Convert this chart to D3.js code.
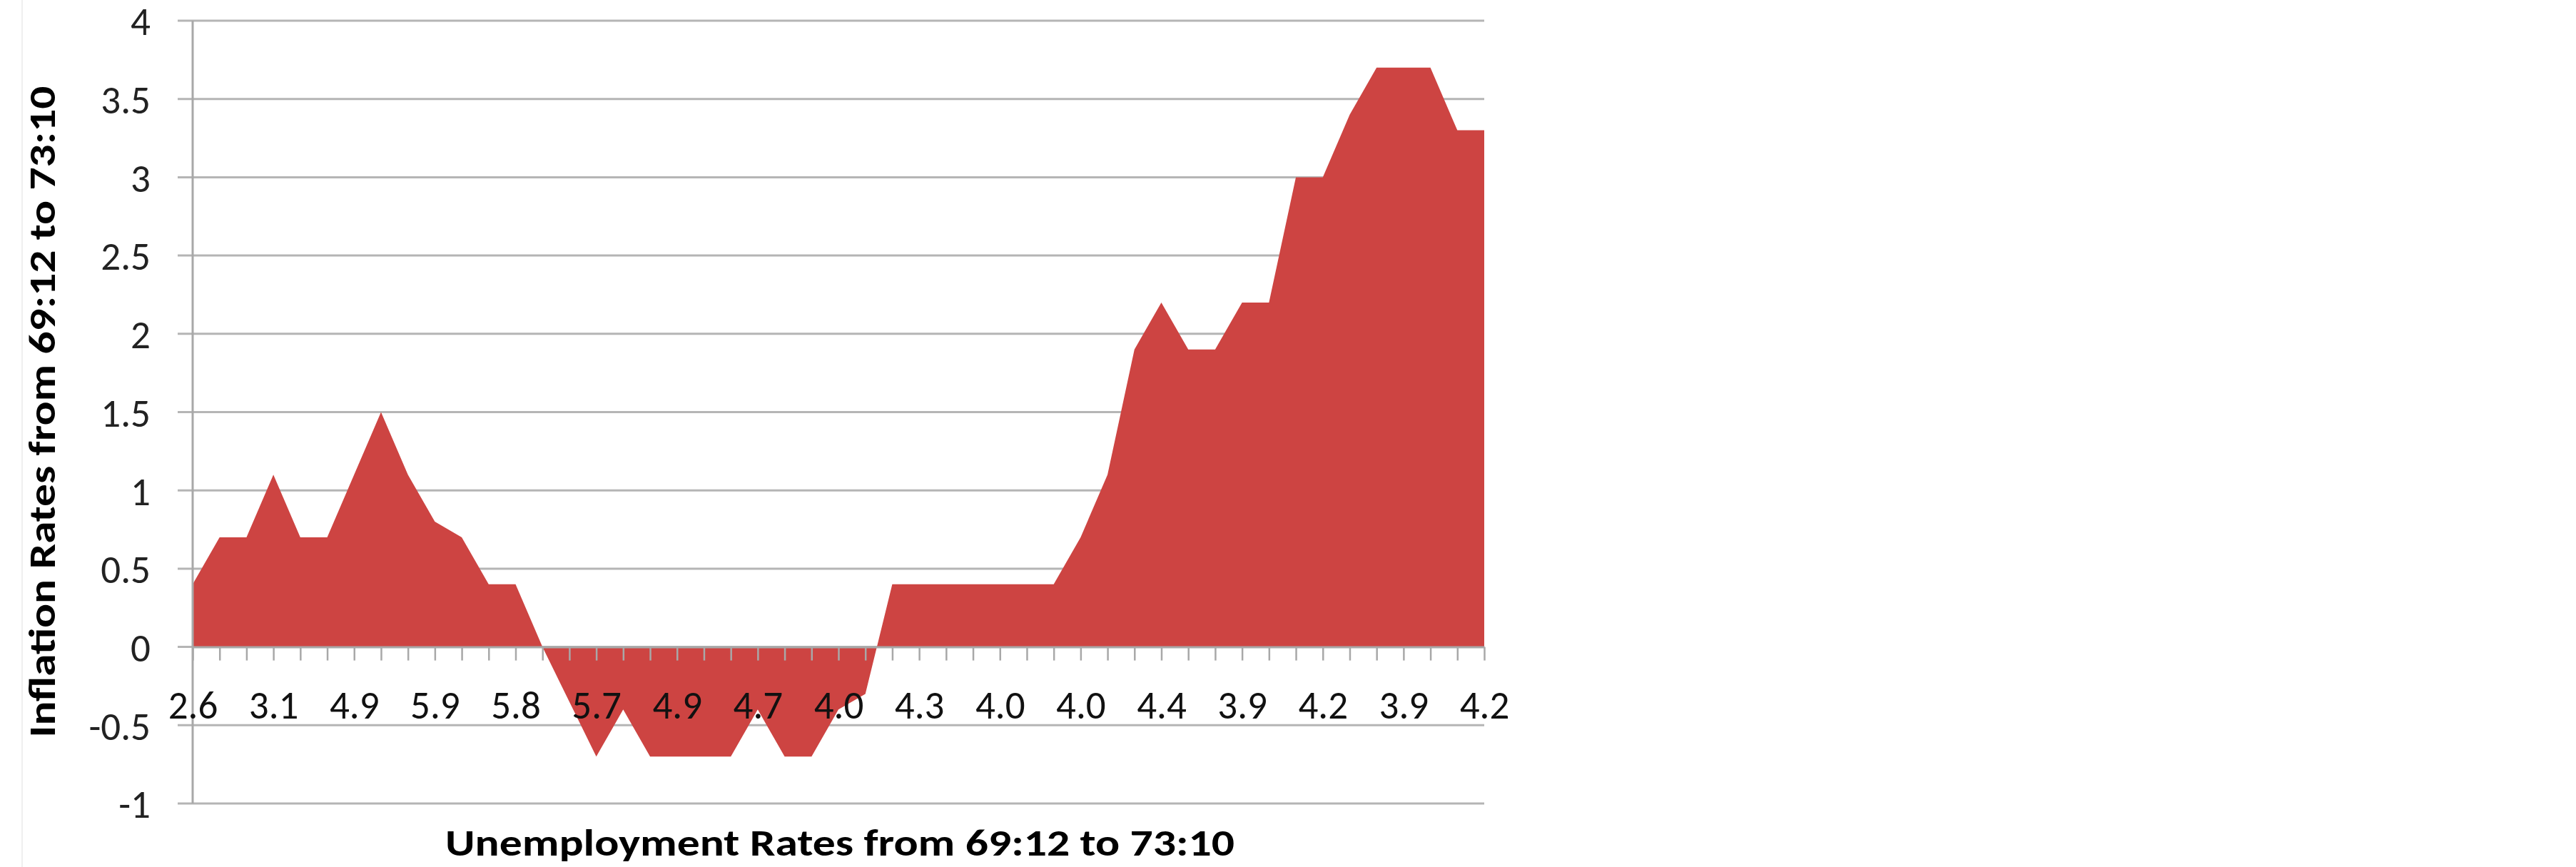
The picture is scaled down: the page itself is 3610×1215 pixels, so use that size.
<!DOCTYPE html>
<html>
<head>
<meta charset="utf-8">
<script src="https://cdn.jsdelivr.net/npm/d3@7"></script>
<style>
  html, body { margin: 0; padding: 0; background: #fff; }
  svg { display: block; }
</style>
</head>
<body>
<div id="chart"></div>
<script>
// inflation rate per month, 69:12 .. (49 points)
const inflation = [
    0.4, 0.7, 0.7, 1.1, 0.7, 0.7, 1.1, 1.5, 1.1, 0.8,
    0.7, 0.4, 0.4, 0.0, -0.35, -0.7, -0.4, -0.7, -0.7, -0.7,
    -0.7, -0.4, -0.7, -0.7, -0.4, -0.3, 0.4, 0.4, 0.4, 0.4,
    0.4, 0.4, 0.4, 0.7, 1.1, 1.9, 2.2, 1.9, 1.9, 2.2,
    2.2, 3.0, 3.0, 3.4, 3.7, 3.7, 3.7, 3.3, 3.3
];
const categories = d3.range(inflation.length);

// unemployment labels shown on every 3rd category
const unemploymentLabels = ["2.6", "3.1", "4.9", "5.9", "5.8", "5.7", "4.9", "4.7", "4.0",
    "4.3", "4.0", "4.0", "4.4", "3.9", "4.2", "3.9", "4.2"];
const labelEvery = 3;

const yTicks = [-1, -0.5, 0, 0.5, 1, 1.5, 2, 2.5, 3, 3.5, 4];

const xTitle = "Unemployment Rates from 69:12 to 73:10";
const yTitle = "Inflation Rates from 69:12 to 73:10";

function drawChart() {
    const width = 3610, height = 1215;
    const left = 270, right = 2080, top = 29, bottom = 1126;
    const font = "Carlito, Lato, 'Open Sans', sans-serif";

    const svg = d3.select("#chart")
        .append("svg")
        .attr("width", width)
        .attr("height", height);

    // faint chart-area border at far left
    svg.append("line")
        .attr("x1", 31).attr("x2", 31)
        .attr("y1", 0).attr("y2", height)
        .attr("stroke", "#efefef")
        .attr("stroke-width", 2);

    const x = d3.scalePoint()
        .domain(categories)
        .range([left, right]);

    const y = d3.scaleLinear()
        .domain([-1, 4])
        .range([bottom, top]);

    // horizontal gridlines (they also make the outside ticks of the y axis)
    svg.append("g")
        .selectAll("line")
        .data(yTicks)
        .join("line")
        .attr("x1", left - 21)
        .attr("x2", right)
        .attr("y1", d => y(d))
        .attr("y2", d => y(d))
        .attr("stroke", "#b5b5b5")
        .attr("stroke-width", 3);

    // the filled area, baseline at zero
    const area = d3.area()
        .x((d, i) => x(i))
        .y0(y(0))
        .y1(d => y(d));

    svg.append("path")
        .datum(inflation)
        .attr("d", area)
        .attr("fill", "#cd4442");

    // y axis line
    svg.append("line")
        .attr("x1", left).attr("x2", left)
        .attr("y1", y(4)).attr("y2", y(-1))
        .attr("stroke", "#a8a8a8")
        .attr("stroke-width", 3);

    // x axis at zero, ticks on every category
    const xAxis = d3.axisBottom(x)
        .tickSizeInner(19)
        .tickSizeOuter(0)
        .tickFormat(i => i % labelEvery === 0 ? unemploymentLabels[i / labelEvery] : "");

    const gx = svg.append("g")
        .attr("transform", `translate(0,${y(0)})`)
        .call(xAxis);

    gx.select(".domain")
        .attr("stroke", "#a8a8a8")
        .attr("stroke-width", 3);
    gx.selectAll(".tick line")
        .attr("stroke", "#a8a8a8")
        .attr("stroke-width", 2.5);
    gx.selectAll(".tick text")
        .attr("y", 100)
        .attr("dy", 0)
        .style("font-family", font)
        .style("font-size", "55px")
        .style("fill", "#111");

    // y tick labels
    const yAxis = d3.axisLeft(y)
        .tickValues(yTicks)
        .tickSize(0)
        .tickFormat(d => String(d));

    const gy = svg.append("g")
        .attr("transform", `translate(${left},0)`)
        .call(yAxis);

    gy.select(".domain").remove();
    gy.selectAll(".tick text")
        .attr("x", -59)
        .attr("dy", "0.36em")
        .style("font-family", font)
        .style("font-size", "55px")
        .style("fill", "#222");

    // axis titles
    svg.append("text")
        .attr("x", 1177)
        .attr("y", 1199)
        .attr("text-anchor", "middle")
        .attr("textLength", 1106)
        .attr("lengthAdjust", "spacingAndGlyphs")
        .style("font-family", font)
        .style("font-weight", "bold")
        .style("font-size", "53px")
        .style("fill", "#000")
        .text(xTitle);

    svg.append("text")
        .attr("transform", "translate(77,577) rotate(-90)")
        .attr("text-anchor", "middle")
        .attr("textLength", 913)
        .attr("lengthAdjust", "spacingAndGlyphs")
        .style("font-family", font)
        .style("font-weight", "bold")
        .style("font-size", "53px")
        .style("fill", "#000")
        .text(yTitle);
}

drawChart();
</script>
</body>
</html>
